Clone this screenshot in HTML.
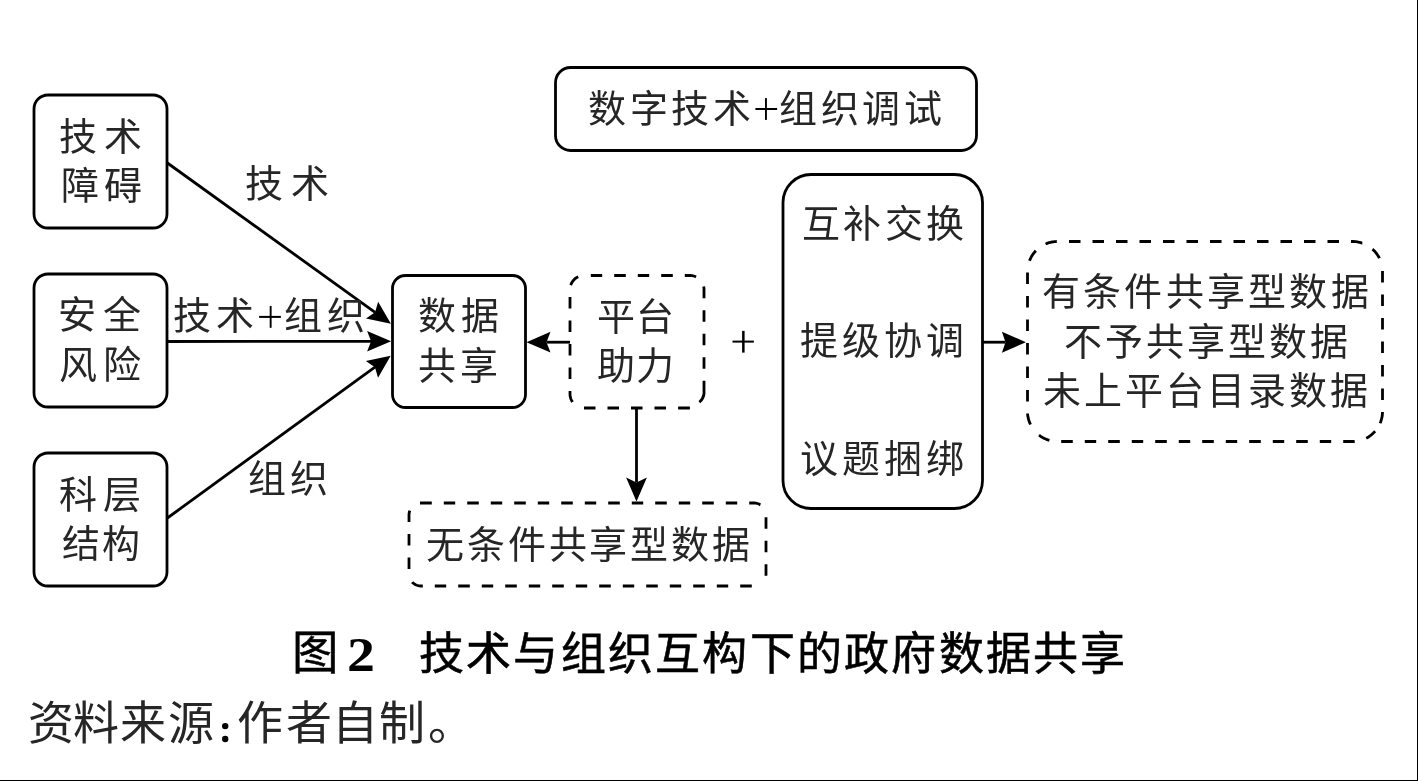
<!DOCTYPE html>
<html lang="zh-CN"><head><meta charset="utf-8"><title>图2</title>
<style>
html,body{margin:0;padding:0;background:#fff;}
body{width:1418px;height:781px;position:relative;overflow:hidden;}
svg{position:absolute;left:0;top:0;}
svg rect, svg line, svg path.dsh{fill:none;stroke:#000;stroke-width:2.8;}
svg .ah{fill:#000;stroke:none;}
svg rect.f, svg circle.f{fill:#000;stroke:none;}
.t{position:absolute;white-space:nowrap;color:#262626;will-change:transform;font-family:"Liberation Serif",serif;}
.h{color:transparent;}
.cap{position:absolute;white-space:nowrap;color:#000;will-change:transform;}
.bd{position:absolute;background:#000;}
</style></head><body>
<svg width="1418" height="781" viewBox="0 0 1418 781">
<rect x="34" y="95" width="133" height="133" rx="14" ry="14"/>
<rect x="34" y="274" width="133" height="133" rx="14" ry="14"/>
<rect x="34" y="453" width="133" height="133" rx="14" ry="14"/>
<rect x="392.5" y="275.5" width="133.0" height="132.0" rx="13" ry="13"/>
<path class="dsh" d="M590.8,275.5 602.2,275.5M614.2,275.5 625.8,275.5M637.8,275.5 649.2,275.5M661.2,275.5 672.8,275.5M684.8,275.5 685.5,275.5 686.2,275.5 687.0,275.5 687.8,275.5 688.5,275.5 689.2,275.5 690.0,275.5 690.7,275.5 691.5,275.6 692.2,275.7 693.0,275.8 693.7,276.0 694.4,276.2 695.1,276.5 695.8,276.8 696.0,276.9M703.7,286.5 703.8,287.3 703.9,288.0 704.0,288.8 704.0,289.5 704.0,290.2 704.0,291.0 704.0,291.8 704.0,292.5 704.0,293.2 704.0,294.0 704.0,294.8 704.0,295.5 704.0,296.2 704.0,297.0 704.0,297.8 704.0,298.2M704.0,310.2 704.0,321.8M704.0,333.8 704.0,345.2M704.0,357.2 704.0,368.8M704.0,380.8 704.0,392.2M666.0,408.0 654.5,408.0M642.5,408.0 631.0,408.0M619.0,408.0 607.5,408.0M595.5,408.0 584.0,408.0M572.5,402.0 572.1,401.4 571.7,400.7 571.4,400.0 571.1,399.4 570.8,398.7 570.6,397.9 570.4,397.2 570.2,396.5 570.1,395.7 570.0,395.0 570.0,394.2 570.0,393.5 570.0,392.8 570.0,392.0 570.0,391.2 570.0,391.0M570.0,379.0 570.0,367.5M570.0,355.5 570.0,344.0M570.0,332.0 570.0,320.5M570.0,308.5 570.0,297.0M570.7,285.1 571.0,284.4 571.3,283.7 571.6,283.0 572.0,282.4 572.4,281.7 572.8,281.1 573.3,280.5 573.8,280.0 574.3,279.4 574.8,278.9 575.4,278.4 576.0,278.0 576.6,277.6 577.3,277.2 578.0,276.9 578.2,276.8M704,392 L704,394 A14 14 0 0 1 699.4,402.3M689.9,408 L678.1,408"/>
<path class="dsh" d="M420.0,503.0 420.8,503.0 421.5,503.0 422.2,503.0 423.0,503.0 423.8,503.0 424.5,503.0 425.2,503.0 426.0,503.0 426.8,503.0 427.5,503.0 428.2,503.0 429.0,503.0 429.8,503.0 430.5,503.0 431.2,503.0 431.8,503.0M443.8,503.0 455.2,503.0M467.2,503.0 478.8,503.0M490.8,503.0 502.2,503.0M514.2,503.0 525.8,503.0M537.8,503.0 549.2,503.0M561.2,503.0 572.8,503.0M584.8,503.0 596.2,503.0M608.2,503.0 619.8,503.0M631.8,503.0 643.2,503.0M655.2,503.0 666.8,503.0M678.8,503.0 690.2,503.0M702.2,503.0 713.8,503.0M725.8,503.0 737.2,503.0M749.2,503.0 750.0,503.0 750.8,503.0 751.5,503.0 752.2,503.0 753.0,503.0 753.8,503.0 754.5,503.0 755.2,503.1 756.0,503.2 756.7,503.3 757.4,503.5 758.1,503.7 758.8,504.0 759.5,504.3 760.1,504.7 760.4,504.8M766.0,517.2 766.0,528.8M766.0,540.8 766.0,552.2M766.0,564.2 766.0,565.0 766.0,565.8 766.0,566.5 766.0,567.2 766.0,568.0 766.0,568.8 766.0,569.5 766.0,570.2 766.0,571.0 766.0,571.8 766.0,572.5 766.0,573.2 766.0,574.0 766.0,574.7 765.9,575.5 765.9,575.7M751.8,586.0 740.2,586.0M728.2,586.0 716.8,586.0M704.8,586.0 693.2,586.0M681.2,586.0 669.8,586.0M657.8,586.0 646.2,586.0M634.2,586.0 622.8,586.0M610.8,586.0 599.2,586.0M587.2,586.0 575.8,586.0M563.8,586.0 552.2,586.0M540.2,586.0 528.8,586.0M516.8,586.0 505.2,586.0M493.2,586.0 481.8,586.0M469.8,586.0 458.2,586.0M446.2,586.0 434.8,586.0M422.8,586.0 422.0,586.0 421.2,586.0 420.5,586.0 419.8,585.9 419.0,585.8 418.3,585.7 417.6,585.5 416.9,585.3 416.2,585.0 415.5,584.7 414.9,584.3 414.2,583.9 413.6,583.5 413.1,583.0 412.5,582.5 412.2,582.1M409.0,569.0 409.0,557.5M409.0,545.5 409.0,534.0M409.0,522.0 409.0,521.2 409.0,520.5 409.0,519.8 409.0,519.0 409.0,518.2 409.0,517.5 409.0,516.8 409.0,516.0 409.0,515.2 409.0,514.5 409.1,513.8 409.2,513.0 409.3,512.3 409.5,511.6 409.7,510.9 409.8,510.6"/>
<path class="dsh" d="M1029.7,260.3 1030.0,259.6 1030.3,258.9 1030.6,258.3 1030.9,257.6 1031.3,256.9 1031.6,256.3 1032.0,255.6 1032.4,255.0 1032.9,254.4 1033.3,253.8 1033.7,253.2 1034.2,252.6 1034.7,252.0 1035.2,251.5 1035.7,250.9 1035.9,250.7M1045.6,244.0 1046.3,243.7 1047.0,243.4 1047.7,243.1 1048.4,242.9 1049.1,242.7 1049.9,242.5 1050.6,242.3 1051.3,242.1 1052.0,242.0 1052.8,241.9 1053.5,241.8 1054.3,241.7 1055.0,241.6 1055.8,241.6 1056.5,241.5 1056.8,241.5M1069.0,241.5 1080.5,241.5M1092.5,241.5 1104.0,241.5M1116.0,241.5 1127.5,241.5M1139.5,241.5 1151.0,241.5M1163.0,241.5 1174.5,241.5M1186.5,241.5 1198.0,241.5M1210.0,241.5 1221.5,241.5M1233.5,241.5 1245.0,241.5M1257.0,241.5 1268.5,241.5M1280.5,241.5 1292.0,241.5M1304.0,241.5 1315.5,241.5M1327.5,241.5 1339.0,241.5M1351.0,241.5 1351.8,241.5 1352.5,241.5 1353.2,241.5 1354.0,241.5 1354.7,241.6 1355.5,241.6 1356.2,241.7 1357.0,241.8 1357.7,242.0 1358.4,242.1 1359.2,242.3 1359.9,242.4 1360.6,242.6 1361.3,242.8 1362.1,243.1 1362.3,243.1M1372.5,249.2 1373.1,249.7 1373.6,250.2 1374.1,250.7 1374.7,251.3 1375.2,251.8 1375.6,252.4 1376.1,253.0 1376.6,253.6 1377.0,254.2 1377.4,254.8 1377.8,255.4 1378.2,256.1 1378.6,256.7 1379.0,257.4 1379.3,258.0 1379.4,258.3M1382.5,271.0 1382.5,282.5M1382.5,294.5 1382.5,306.0M1382.5,318.0 1382.5,329.5M1382.5,341.5 1382.5,353.0M1382.5,365.0 1382.5,376.5M1382.5,388.5 1382.5,400.0M1382.5,412.0 1382.5,412.7 1382.4,413.5 1382.4,414.2 1382.3,415.0 1382.2,415.7 1382.1,416.5 1382.0,417.2 1381.8,417.9 1381.6,418.7 1381.4,419.4 1381.2,420.1 1381.0,420.8 1380.8,421.5 1380.5,422.2 1380.2,422.9 1380.1,423.2M1375.2,431.2 1374.7,431.7 1374.1,432.3 1373.6,432.8 1373.1,433.3 1372.5,433.8 1372.0,434.3 1371.4,434.8 1370.8,435.3 1370.2,435.7 1369.6,436.1 1369.0,436.6 1368.4,437.0 1367.7,437.4 1367.1,437.7 1366.4,438.1 1366.2,438.2M1354.7,441.4 1354.0,441.5 1353.2,441.5 1352.5,441.5 1351.8,441.5 1351.0,441.5 1350.2,441.5 1349.5,441.5 1348.8,441.5 1348.0,441.5 1347.2,441.5 1346.5,441.5 1345.8,441.5 1345.0,441.5 1344.2,441.5 1343.5,441.5 1343.2,441.5M1331.2,441.5 1319.8,441.5M1307.8,441.5 1296.2,441.5M1284.2,441.5 1272.8,441.5M1260.8,441.5 1249.2,441.5M1237.2,441.5 1225.8,441.5M1213.8,441.5 1202.2,441.5M1190.2,441.5 1178.8,441.5M1166.8,441.5 1155.2,441.5M1143.2,441.5 1131.8,441.5M1119.8,441.5 1108.2,441.5M1096.2,441.5 1084.8,441.5M1072.8,441.5 1061.2,441.5M1049.4,440.4 1048.7,440.2 1047.9,439.9 1047.2,439.7 1046.5,439.4 1045.8,439.1 1045.2,438.8 1044.5,438.5 1043.8,438.2 1043.2,437.8 1042.5,437.5 1041.9,437.1 1041.2,436.7 1040.6,436.3 1040.0,435.9 1039.4,435.4 1039.0,435.1M1030.5,424.5 1030.2,423.8 1029.9,423.2 1029.6,422.5 1029.3,421.8 1029.1,421.1 1028.8,420.3 1028.6,419.6 1028.4,418.9 1028.3,418.2 1028.1,417.4 1028.0,416.7 1027.8,416.0 1027.7,415.2 1027.6,414.5 1027.6,413.7 1027.6,413.5M1027.5,401.5 1027.5,390.0M1027.5,378.0 1027.5,366.5M1027.5,354.5 1027.5,343.0M1027.5,331.0 1027.5,319.5M1027.5,307.5 1027.5,296.0M1027.5,284.0 1027.5,272.5M1029.5,260.8 1029.8,260.1 1030.1,259.4 1030.4,258.7 1030.7,258.0 1031.0,257.4 1031.4,256.7 1031.8,256.1 1032.2,255.4 1032.6,254.8 1033.0,254.2 1033.4,253.6 1033.9,253.0 1034.4,252.4 1034.8,251.8 1035.3,251.3 1035.5,251.1"/>
<rect x="555.5" y="67.5" width="421.0" height="83.0" rx="15" ry="15"/>
<rect x="783" y="174.5" width="199.5" height="334.0" rx="28" ry="28"/>
<line x1="167.4" y1="163" x2="375.07" y2="312.32"/>
<polygon class="ah" points="390.9,323.7 365.99,318.60 375.07,312.32 378.13,301.71"/>
<line x1="167" y1="341.5" x2="371.10" y2="341.32"/>
<polygon class="ah" points="391.1,341.3 367.11,351.52 371.10,341.32 367.09,331.12"/>
<line x1="167.4" y1="518" x2="374.93" y2="367.16"/>
<polygon class="ah" points="390.7,355.7 378.05,377.75 374.93,367.16 365.82,360.93"/>
<line x1="570" y1="342.2" x2="546.50" y2="342.20"/>
<polygon class="ah" points="526.5,342.2 550.50,331.80 546.50,342.20 550.50,352.60"/>
<line x1="636.5" y1="408" x2="636.50" y2="482.50"/>
<polygon class="ah" points="636.5,501.5 626.10,477.50 636.50,482.50 646.90,477.50"/>
<line x1="982.5" y1="342.2" x2="1005.50" y2="342.20"/>
<polygon class="ah" points="1025.9,342.2 1001.90,352.70 1005.50,342.20 1001.90,331.70"/>
<circle class="f" cx="225.2" cy="726.1" r="3.2"/><circle class="f" cx="225.2" cy="739" r="3.2"/><rect class="f" x="755.4" y="108" width="21.7" height="2"/><rect class="f" x="765" y="98.1" width="1.9" height="21.8"/><rect class="f" x="259.1" y="315.9" width="21.8" height="2"/><rect class="f" x="269.7" y="306" width="1.9" height="21.8"/><rect class="f" x="732.5" y="340.6" width="21.4" height="2"/><rect class="f" x="742.1" y="330.9" width="2.5" height="21.7"/>
</svg>
<div class="t" style="left:58.7px;top:117.7px;font-size:38.0px;line-height:38.0px;letter-spacing:7.14px;">技术</div>
<div class="t" style="left:60.7px;top:167.0px;font-size:38.0px;line-height:38.0px;letter-spacing:5.08px;">障碍</div>
<div class="t" style="left:58.2px;top:296.3px;font-size:38.0px;line-height:38.0px;letter-spacing:6.50px;">安全</div>
<div class="t" style="left:59.4px;top:346.1px;font-size:38.0px;line-height:38.0px;letter-spacing:6.38px;">风险</div>
<div class="t" style="left:59.2px;top:476.1px;font-size:38.0px;line-height:38.0px;letter-spacing:5.92px;">科层</div>
<div class="t" style="left:61.7px;top:525.3px;font-size:38.0px;line-height:38.0px;letter-spacing:2.22px;">结构</div>
<div class="t" style="left:417.5px;top:297.1px;font-size:38.0px;line-height:38.0px;letter-spacing:5.04px;">数据</div>
<div class="t" style="left:417.8px;top:346.8px;font-size:38.0px;line-height:38.0px;letter-spacing:4.10px;">共享</div>
<div class="t" style="left:596.5px;top:298.2px;font-size:38.0px;line-height:38.0px;letter-spacing:1.34px;">平台</div>
<div class="t" style="left:597.3px;top:347.0px;font-size:38.0px;line-height:38.0px;letter-spacing:0.96px;">助力</div>
<div class="t" style="left:425.8px;top:525.5px;font-size:38.0px;line-height:38.0px;letter-spacing:2.85px;">无条件共享型数据</div>
<div class="t" style="left:588.2px;top:89.6px;font-size:38.0px;line-height:38.0px;letter-spacing:3.56px;">数字技术<span class="h">+</span>组织调试</div>
<div class="t" style="left:802.1px;top:205.2px;font-size:38.0px;line-height:38.0px;letter-spacing:3.44px;">互补交换</div>
<div class="t" style="left:800.3px;top:321.6px;font-size:38.0px;line-height:38.0px;letter-spacing:4.09px;">提级协调</div>
<div class="t" style="left:799.5px;top:439.9px;font-size:38.0px;line-height:38.0px;letter-spacing:3.84px;">议题捆绑</div>
<div class="t" style="left:1042.0px;top:272.5px;font-size:38.0px;line-height:38.0px;letter-spacing:3.23px;">有条件共享型数据</div>
<div class="t" style="left:1063.5px;top:323.0px;font-size:38.0px;line-height:38.0px;letter-spacing:3.07px;">不予共享型数据</div>
<div class="t" style="left:1043.2px;top:372.3px;font-size:38.0px;line-height:38.0px;letter-spacing:3.06px;">未上平台目录数据</div>
<div class="t" style="left:245.1px;top:164.8px;font-size:38.0px;line-height:38.0px;letter-spacing:7.74px;">技术</div>
<div class="t" style="left:172.9px;top:297.3px;font-size:38.0px;line-height:38.0px;letter-spacing:4.66px;">技术<span class="h">+</span>组织</div>
<div class="t" style="left:247.5px;top:460.2px;font-size:38.0px;line-height:38.0px;letter-spacing:3.80px;">组织</div>
<div class="t" style="left:419.4px;top:633.0px;font-size:45.0px;line-height:45.0px;letter-spacing:2.24px;color:#000;-webkit-text-stroke:0.6px #000;">技术与组织互构下的政府数据共享</div>
<div class="t" style="left:28.3px;top:701.2px;font-size:46.0px;line-height:46.0px">资</div>
<div class="t" style="left:72.5px;top:701.2px;font-size:46.0px;line-height:46.0px">料</div>
<div class="t" style="left:120.3px;top:701.2px;font-size:46.0px;line-height:46.0px">来</div>
<div class="t" style="left:167.7px;top:701.2px;font-size:46.0px;line-height:46.0px">源</div>
<div class="t" style="left:236.6px;top:701.2px;font-size:46.0px;line-height:46.0px">作</div>
<div class="t" style="left:285.8px;top:701.2px;font-size:46.0px;line-height:46.0px">者</div>
<div class="t" style="left:331.9px;top:701.2px;font-size:46.0px;line-height:46.0px">自</div>
<div class="t" style="left:378.6px;top:701.2px;font-size:46.0px;line-height:46.0px">制</div>
<div class="t" style="left:427.6px;top:701.2px;font-size:46.0px;line-height:46.0px">。</div>
<div class="t h" style="left:219px;top:701.2px;font-size:46.0px;line-height:46.0px">:</div>
<div class="cap" style="left:291.9px;top:630px;font-family:'Liberation Sans',sans-serif;font-size:46.5px;line-height:46.5px;-webkit-text-stroke:0.5px #000;">图</div>
<div class="cap" style="left:347px;top:624.5px;font-family:'Liberation Serif',serif;font-weight:bold;font-size:49px;line-height:60px;transform:scaleX(1.14);transform-origin:0 0;">2</div>
<div class="bd" style="left:1417px;top:0;width:1px;height:781px"></div>
<div class="bd" style="left:0;top:780px;width:1418px;height:1px"></div>
</body></html>
